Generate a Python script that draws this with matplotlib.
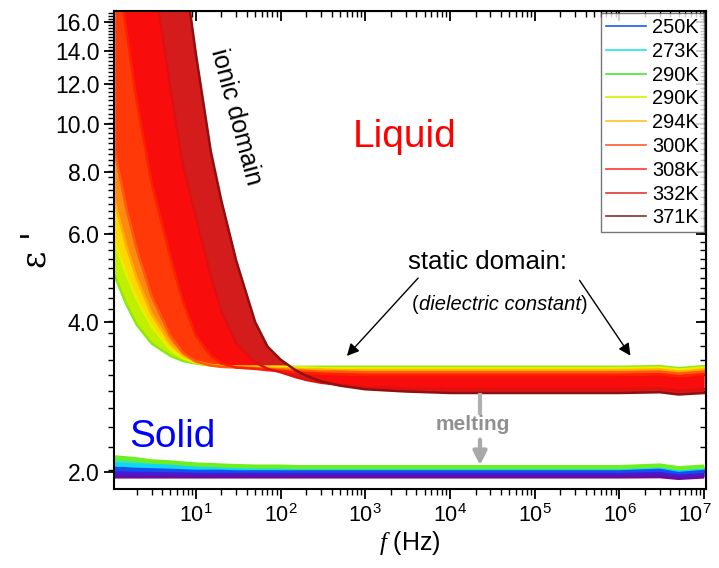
import numpy as np
import matplotlib
matplotlib.use("Agg")
import matplotlib.pyplot as plt
import matplotlib.transforms as mtrans
from matplotlib.ticker import FixedLocator, FormatStrFormatter, LogLocator
from matplotlib.lines import Line2D

plt.rcParams['font.family'] = ['Liberation Sans', 'DejaVu Sans']
plt.rcParams['mathtext.fontset'] = 'custom'
plt.rcParams['mathtext.rm'] = 'Liberation Sans'
plt.rcParams['mathtext.it'] = 'Liberation Serif:italic'

# ---------------- data ----------------
freq = [1.1, 1.5, 2, 3, 5, 7, 10, 15, 20, 30, 50, 70, 100, 150, 200, 300, 500,
        1e3, 3e3, 1e4, 1e5, 1e6, 3e6, 5e6, 1e7]

# liquid phase (epsilon')
liq_290g = [4.95, 4.35, 3.95, 3.62, 3.42, 3.34, 3.30, 3.27, 3.26, 3.25, 3.25, 3.25, 3.25,
            3.25, 3.25, 3.25, 3.25, 3.25, 3.25, 3.25, 3.25, 3.25, 3.26, 3.23, 3.26]
liq_290y = [5.8, 5.0, 4.45, 3.92, 3.52, 3.38, 3.31, 3.27, 3.26, 3.25, 3.25, 3.25, 3.25,
            3.24, 3.24, 3.23, 3.23, 3.23, 3.23, 3.23, 3.23, 3.23, 3.24, 3.21, 3.24]
liq_294 = [7.0, 5.7, 4.9, 4.15, 3.62, 3.43, 3.33, 3.28, 3.26, 3.25, 3.24, 3.24, 3.23,
           3.22, 3.21, 3.21, 3.20, 3.20, 3.20, 3.20, 3.20, 3.20, 3.21, 3.18, 3.21]
liq_300 = [8.8, 6.8, 5.6, 4.5, 3.75, 3.47, 3.33, 3.27, 3.25, 3.24, 3.23, 3.22, 3.21,
           3.20, 3.19, 3.18, 3.18, 3.17, 3.17, 3.17, 3.17, 3.17, 3.18, 3.15, 3.18]
liq_308 = [22.0, 15.5, 11.1, 7.6, 5.4, 4.4, 3.75, 3.42, 3.30, 3.24, 3.22, 3.20, 3.19,
           3.17, 3.16, 3.15, 3.14, 3.13, 3.13, 3.13, 3.13, 3.13, 3.14, 3.11, 3.14]
liq_332 = [40.0, 32.0, 27.0, 21.0, 11.8, 8.3, 6.5, 4.95, 4.2, 3.62, 3.32, 3.22, 3.17,
           3.10, 3.06, 3.02, 2.99, 2.96, 2.94, 2.93, 2.93, 2.93, 2.94, 2.91, 2.93]
liq_371 = [80.0, 65.0, 52.0, 40.0, 31.0, 21.5, 13.8, 8.8, 7.0, 5.3, 4.0, 3.57, 3.36,
           3.20, 3.12, 3.04, 2.98, 2.93, 2.90, 2.88, 2.88, 2.88, 2.89, 2.86, 2.88]

# solid phase (epsilon')
sol_top = [2.14, 2.13, 2.12, 2.10, 2.09, 2.08, 2.07, 2.065, 2.06, 2.055, 2.05, 2.05, 2.05,
           2.045, 2.045, 2.045, 2.045, 2.045, 2.045, 2.045, 2.045, 2.045, 2.06, 2.035, 2.05]
sol_273 = [2.07, 2.065, 2.06, 2.055, 2.05, 2.045, 2.04, 2.04, 2.04, 2.035, 2.035, 2.035, 2.035,
           2.035, 2.035, 2.035, 2.035, 2.035, 2.035, 2.035, 2.035, 2.035, 2.05, 2.02, 2.04]
sol_250 = [2.03, 2.025, 2.02, 2.02, 2.015, 2.015, 2.01, 2.01, 2.01, 2.01, 2.01, 2.01, 2.01,
           2.01, 2.01, 2.01, 2.01, 2.01, 2.01, 2.01, 2.01, 2.01, 2.02, 1.995, 2.01]
sol_v = [1.985] * 22 + [1.99, 1.97, 1.985]
sol_p = [1.958] * 22 + [1.96, 1.945, 1.958]

legend_labels = ['250K', '273K', '290K', '290K', '294K', '300K', '308K', '332K', '371K']
legend_colors = ['#1a5fe0', '#22e2f0', '#44e830', '#d8f000', '#ffc020',
                 '#ff5a30', '#ff3535', '#e43636', '#8a3030']

yticks = [2.0, 4.0, 6.0, 8.0, 10.0, 12.0, 14.0, 16.0]

# ---------------- figure ----------------
fig = plt.figure(figsize=(7.19, 5.68), dpi=100)
ax = fig.add_axes([114/719, 79/568, 592/719, 478/568])
ax.set_xscale('log')
ax.set_yscale('log')

f = np.array(freq)

# solid band
sol_curves = [sol_p, sol_v, sol_250, sol_273, sol_top]
sol_cols = ['#6a0aa0', '#4a18d0', '#1050f0', '#10d8f0', '#6ef020']
sol_fill = ['#5a14b8', '#3030e0', '#1090f0', '#40e8a0']
for i in range(len(sol_curves) - 1):
    ax.fill_between(f, sol_curves[i], sol_curves[i + 1], color=sol_fill[i], lw=0)
for c, col in zip(sol_curves, sol_cols):
    ax.plot(f, c, color=col, lw=3.0, solid_capstyle='butt')

# liquid band
liq_curves = [liq_290g, liq_290y, liq_294, liq_300, liq_308, liq_332, liq_371]
liq_cols = ['#8ae810', '#e8f000', '#ffb000', '#ff5a10', '#ff2000', '#e01010', '#901010']
liq_fill = ['#c0f000', '#ffd800', '#ff8a10', '#ff3a08', '#f80c0c', '#d41c1c']
for i in range(len(liq_curves) - 1):
    ax.fill_between(f, liq_curves[i], liq_curves[i + 1], color=liq_fill[i], lw=0)
for c, col in zip(liq_curves, liq_cols):
    ax.plot(f, c, color=col, lw=1.8)

# axes limits and ticks
ax.set_xlim(1.08, 1.05e7)
ax.set_ylim(1.848, 16.83)
ax.yaxis.set_major_locator(FixedLocator(yticks))
ax.yaxis.set_major_formatter(FormatStrFormatter('%.1f'))
ax.yaxis.set_minor_locator(FixedLocator(np.arange(1.8, 17.0, 2/9)))
ax.yaxis.set_minor_formatter(plt.NullFormatter())
ax.xaxis.set_major_locator(LogLocator(base=10, numticks=20))
ax.xaxis.set_minor_locator(LogLocator(base=10, subs=np.arange(2, 10), numticks=20))

ax.tick_params(axis='both', which='major', width=1.3, length=7)
ax.tick_params(axis='y', which='major', labelsize=16.5)
ax.tick_params(axis='x', which='major', labelsize=15.5, pad=4)
ax.tick_params(axis='both', which='minor', width=1.0, length=4)
ax.tick_params(axis='both', which='both', direction='out', top=False, right=False)
for sp in ax.spines.values():
    sp.set_linewidth(1.5)

# top / right ticks inward via secondary axes
sx = ax.secondary_xaxis('top')
sx.set_xscale('log')
sx.xaxis.set_major_locator(LogLocator(base=10, numticks=20))
sx.xaxis.set_minor_locator(LogLocator(base=10, subs=np.arange(2, 10), numticks=20))
sx.tick_params(which='both', direction='in', labeltop=False)
sx.tick_params(which='major', length=7, width=1.3)
sx.tick_params(which='minor', length=4, width=1.0)
sy = ax.secondary_yaxis('right')
sy.yaxis.set_major_locator(FixedLocator(yticks))
sy.yaxis.set_minor_locator(FixedLocator(np.arange(1.8, 17.0, 2/9)))
sy.tick_params(which='both', direction='in', labelright=False)
sy.tick_params(which='major', length=7, width=1.3)
sy.tick_params(which='minor', length=4, width=1.0)

ax.set_xlabel('$f$ (Hz)', fontsize=18, labelpad=1)
ax.set_ylabel("ε '", fontsize=24, labelpad=2, family=['DejaVu Serif'])

# keep the last x tick label inside the figure
fig.canvas.draw()
shift = mtrans.ScaledTranslation(-7 / 72, 0, fig.dpi_scale_trans)
for lab in ax.get_xticklabels():
    x0 = lab.get_position()[0]
    if x0 > 5e6:
        lab.set_transform(lab.get_transform() + shift)

# legend
handles = [Line2D([0], [0], color=c, lw=1.2) for c in legend_colors]
leg = ax.legend(handles, legend_labels, loc='upper right', fontsize=14.4,
                frameon=True, fancybox=False, edgecolor='#555555',
                borderaxespad=0.1, borderpad=0.25, labelspacing=0.24,
                handlelength=2.0, handletextpad=0.3)
leg.get_frame().set_linewidth(1.0)

def px(x, y):
    return ((x - 114) / 592, (489 - y) / 478)

T = ax.transAxes
ax.text(*px(405, 137), 'Liquid', color='#ff0000', fontsize=28, ha='center', va='center', transform=T)
ax.text(*px(172, 437), 'Solid', color='#0000ff', fontsize=28, ha='center', va='center', transform=T)
ax.text(*px(236, 117), 'ionic domain', fontsize=18, rotation=-75, ha='center', va='center', transform=T)
ax.text(*px(488, 262), 'static domain:', fontsize=18.5, ha='center', va='center', transform=T)
# (dielectric constant) with italic middle part
t1 = ax.text(*px(412, 305), '(', fontsize=14.5, ha='left', va='center', transform=T)
t2 = ax.annotate('dielectric constant', xy=(1, 0), xycoords=t1, fontsize=14.5,
                 style='italic', va='bottom', ha='left')
t3 = ax.annotate(')', xy=(1, 0), xycoords=t2, fontsize=14.5, va='bottom', ha='left')

ax.text(*px(473, 425), 'melting', color='#909090', fontsize=15, fontweight='bold',
        ha='center', va='center', transform=T)

# arrows
ax.annotate('', xy=px(345, 358), xytext=px(420, 276), xycoords=T, textcoords=T,
            arrowprops=dict(arrowstyle='-|>', color='black', lw=1.0, mutation_scale=18))
ax.annotate('', xy=px(632, 358), xytext=px(578, 278), xycoords=T, textcoords=T,
            arrowprops=dict(arrowstyle='-|>', color='black', lw=1.0, mutation_scale=18))
ax.plot(*zip(px(480, 395), px(480, 413)), color='#b0b0b0', lw=3, transform=T)
ax.annotate('', xy=px(480, 468), xytext=px(480, 437), xycoords=T, textcoords=T,
            arrowprops=dict(arrowstyle='-|>', color='#a8a8a8', lw=3, mutation_scale=20))

fig.savefig('out.png', dpi=100)
